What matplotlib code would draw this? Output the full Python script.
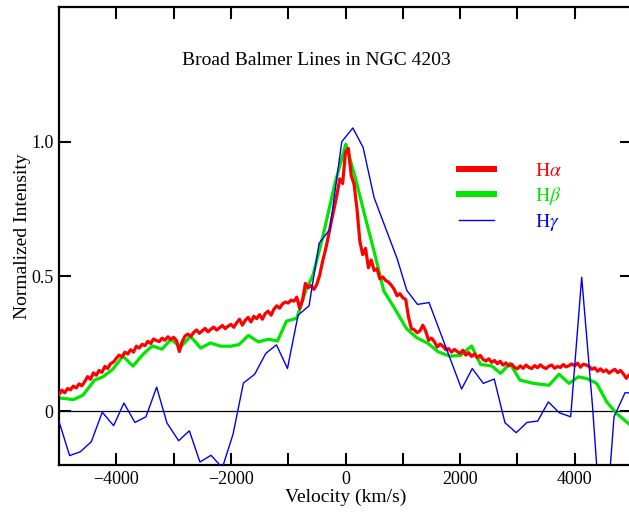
import numpy as np
import matplotlib
matplotlib.use("Agg")
import matplotlib.pyplot as plt

plt.rcParams['font.family'] = ['Liberation Serif', 'DejaVu Serif']
plt.rcParams['mathtext.fontset'] = 'stix'

# H-alpha: dense spectrum, 50 km/s steps from -5000 to 5000
ha_start, ha_step = -5000, 50
ha_flux = [
    0.062, 0.078, 0.068, 0.084, 0.079, 0.093, 0.086, 0.101, 0.094, 0.110,
    0.128, 0.118, 0.142, 0.133, 0.151, 0.144, 0.166, 0.158, 0.176, 0.182,
    0.196, 0.208, 0.201, 0.219, 0.212, 0.228, 0.219, 0.241, 0.234, 0.248,
    0.243, 0.259, 0.251, 0.268, 0.262, 0.258, 0.271, 0.263, 0.276, 0.266,
    0.274, 0.262, 0.221, 0.258, 0.279, 0.286, 0.277, 0.292, 0.301, 0.289,
    0.298, 0.307, 0.294, 0.304, 0.312, 0.301, 0.309, 0.318, 0.306, 0.315,
    0.322, 0.311, 0.328, 0.341, 0.319, 0.337, 0.348, 0.331, 0.352, 0.343,
    0.358, 0.341, 0.362, 0.371, 0.356, 0.378, 0.391, 0.382, 0.398, 0.405,
    0.401, 0.412, 0.408, 0.423, 0.381, 0.412, 0.474, 0.458, 0.466, 0.452,
    0.471, 0.505, 0.556, 0.598, 0.648, 0.702, 0.751, 0.803, 0.862, 0.845,
    0.962, 0.975, 0.874, 0.842, 0.751, 0.631, 0.581, 0.604, 0.532, 0.561,
    0.522, 0.528, 0.491, 0.498, 0.485, 0.479, 0.467, 0.452, 0.428, 0.436,
    0.421, 0.415, 0.349, 0.306, 0.302, 0.291, 0.298, 0.319, 0.297, 0.263,
    0.271, 0.258, 0.238, 0.249, 0.241, 0.228, 0.232, 0.219, 0.229, 0.221,
    0.214, 0.226, 0.208, 0.217, 0.203, 0.212, 0.198, 0.207, 0.192, 0.186,
    0.194, 0.181, 0.188, 0.176, 0.185, 0.171, 0.179, 0.168, 0.174, 0.162,
    0.157, 0.168, 0.159, 0.171, 0.162, 0.158, 0.169, 0.161, 0.172, 0.163,
    0.158, 0.167, 0.171, 0.159, 0.166, 0.162, 0.173, 0.164, 0.169, 0.175,
    0.168, 0.178, 0.163, 0.174, 0.171, 0.166, 0.155, 0.161, 0.148, 0.157,
    0.146, 0.153, 0.141, 0.149, 0.155, 0.143, 0.151, 0.138, 0.122, 0.134,
    0.140,
]
ha_vel = ha_start + ha_step * np.arange(len(ha_flux))

# H-beta
hb_vel = [-5008, -4746, -4583, -4379, -4234, -4059, -3884, -3709, -3534, -3372,
          -3203, -3046, -2877, -2707, -2528, -2358, -2178, -2004, -1858, -1694,
          -1520, -1345, -1188, -1030, -850, -693, -566, -391, -187, 5,
          162, 337, 500, 669, 844, 1065, 1240, 1443, 1618, 1822,
          2009, 2201, 2358, 2550, 2707, 2870, 3045, 3277, 3551, 3726,
          3900, 4063, 4209, 4384, 4559, 4734, 4949]
hb_flux = [0.049, 0.043, 0.059, 0.115, 0.127, 0.156, 0.204, 0.167, 0.211, 0.242,
           0.230, 0.266, 0.238, 0.278, 0.234, 0.253, 0.241, 0.241, 0.247, 0.281,
           0.257, 0.267, 0.260, 0.334, 0.345, 0.448, 0.506, 0.652, 0.843, 0.991,
           0.874, 0.726, 0.592, 0.446, 0.386, 0.306, 0.273, 0.251, 0.220, 0.204,
           0.207, 0.242, 0.173, 0.168, 0.140, 0.177, 0.115, 0.103, 0.096, 0.137,
           0.103, 0.127, 0.121, 0.103, 0.034, -0.009, -0.048]

# H-gamma
hg_vel = [-5008, -4815, -4629, -4437, -4245, -4047, -3867, -3675, -3483, -3296,
          -3116, -2912, -2725, -2540, -2348, -2149, -1963, -1782, -1584, -1392,
          -1205, -1013, -828, -636, -461, -274, -65, 128, 307, 500,
          901, 1070, 1257, 1458, 2026, 2212, 2405, 2596, 2783, 2980,
          3167, 3354, 3540, 3731, 3930, 4122, 4310, 4500, 4686, 4878, 5010]
hg_flux = [-0.033, -0.165, -0.151, -0.114, -0.004, -0.054, 0.030, -0.042, -0.021, 0.089,
           -0.044, -0.110, -0.073, -0.189, -0.164, -0.210, -0.086, 0.104, 0.137, 0.214,
           0.246, 0.158, 0.356, 0.391, 0.623, 0.674, 1.000, 1.051, 0.979, 0.792,
           0.566, 0.448, 0.396, 0.403, 0.082, 0.158, 0.103, 0.119, -0.043, -0.080,
           -0.042, -0.037, 0.034, -0.006, -0.021, 0.497, 0.020, -0.550, -0.021, 0.068, 0.068]

fig = plt.figure(figsize=(6.29, 5.17), dpi=100)
ax = fig.add_axes([59 / 629, 52 / 517, 573 / 629, 458 / 517])

ax.axhline(0, color='black', lw=0.9, zorder=1)
ax.plot(ha_vel, ha_flux, color='#ff0000', lw=2.3, label=r'H$\alpha$', zorder=3)
ax.plot(hb_vel, hb_flux, color='#00e600', lw=2.3, label=r'H$\beta$', zorder=2)
ax.plot(hg_vel, hg_flux, color='#0000f0', lw=1.0, label=r'H$\gamma$', zorder=4)

ax.set_xlim(-5000, 5000)
ax.set_ylim(-0.2, 1.5)

xt = np.arange(-4000, 5000, 1000)
ax.set_xticks(xt, ['\u22124000', '', '\u22122000', '', '0', '', '2000', '', '4000'])
ax.set_yticks([0, 0.5, 1.0], ['0', '0.5', '1.0'])
ax.tick_params(direction='in', length=8.6, width=1.5, labelsize=13,
               top=True, right=True, pad=4)
for s in ax.spines.values():
    s.set_linewidth(1.6)

ax.set_xlabel('Velocity (km/s)', fontsize=14, labelpad=1)
ax.set_ylabel('Normalized Intensity', fontsize=14, labelpad=0)
ax.text(0.4485, 0.884, 'Broad Balmer Lines in NGC 4203', transform=ax.transAxes,
        ha='center', va='center', fontsize=14)

leg = ax.legend(loc='upper left', bbox_to_anchor=(0.667, 0.70), frameon=False,
                fontsize=14, handlelength=1.8, handletextpad=2.1, labelspacing=0.27)
for txt, ln in zip(leg.get_texts(), leg.get_lines()):
    txt.set_color(ln.get_color())
    if ln.get_linewidth() > 2:
        ln.set_linewidth(4.3)

fig.savefig('out.png', dpi=100)
